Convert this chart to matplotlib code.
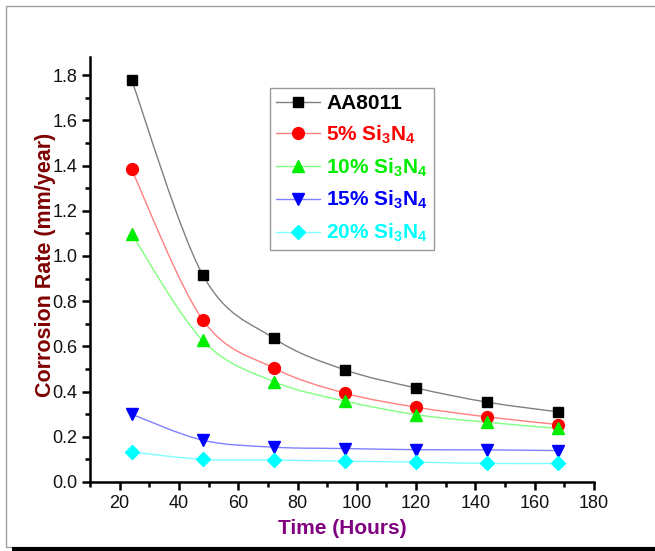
import matplotlib
matplotlib.use("Agg")
import matplotlib.pyplot as plt
from matplotlib.path import Path
from matplotlib.patches import PathPatch, Rectangle
from matplotlib.ticker import MultipleLocator

plt.rcParams['font.family'] = ['Liberation Sans', 'DejaVu Sans']
plt.rcParams['mathtext.fontset'] = 'custom'
plt.rcParams['mathtext.rm'] = 'Liberation Sans:bold'
plt.rcParams['mathtext.it'] = 'Liberation Sans:bold'
plt.rcParams['mathtext.bf'] = 'Liberation Sans:bold'

# ---- data ----
time_h = [24, 48, 72, 96, 120, 144, 168]
aa8011 = [1.78, 0.917, 0.636, 0.496, 0.416, 0.353, 0.310]
si5 = [1.383, 0.718, 0.504, 0.393, 0.331, 0.288, 0.254]
si10 = [1.098, 0.626, 0.444, 0.358, 0.298, 0.264, 0.237]
si15 = [0.300, 0.185, 0.154, 0.148, 0.143, 0.142, 0.139]
si20 = [0.133, 0.100, 0.097, 0.092, 0.088, 0.082, 0.082]
labels = ['AA8011', r'5% Si$_3$N$_4$', r'10% Si$_3$N$_4$', r'15% Si$_3$N$_4$', r'20% Si$_3$N$_4$']
x_ticks = [20, 40, 60, 80, 100, 120, 140, 160, 180]
y_ticks = [0.0, 0.2, 0.4, 0.6, 0.8, 1.0, 1.2, 1.4, 1.6, 1.8]

series = [aa8011, si5, si10, si15, si20]
mcolors = ['#000000', '#ff0000', '#00ee00', '#0000ff', '#00ffff']
lcolors = ['#808080', '#ff8080', '#80ff80', '#8080ff', '#80ffff']
markers = ['s', 'o', '^', 'v', 'D']
msizes = [7.5, 8.5, 9, 9, 7.5]


def smooth_path(xs, ys):
    n = len(xs)
    verts = [(xs[0], ys[0])]
    codes = [Path.MOVETO]
    for i in range(n - 1):
        i0 = max(i - 1, 0)
        i3 = min(i + 2, n - 1)
        c1 = (xs[i] + (xs[i + 1] - xs[i0]) / 6.0, ys[i] + (ys[i + 1] - ys[i0]) / 6.0)
        c2 = (xs[i + 1] - (xs[i3] - xs[i]) / 6.0, ys[i + 1] - (ys[i3] - ys[i]) / 6.0)
        verts += [c1, c2, (xs[i + 1], ys[i + 1])]
        codes += [Path.CURVE4] * 3
    return Path(verts, codes)


fig = plt.figure(figsize=(6.55, 5.51), dpi=100)
ax = fig.add_axes([90 / 655, 1 - 482 / 551, 504 / 655, 425 / 551])

handles = []
for ys, mc, lc, mk, ms, lab in zip(series, mcolors, lcolors, markers, msizes, labels):
    ax.add_patch(PathPatch(smooth_path(time_h, ys), facecolor='none', edgecolor=lc,
                           lw=1.0, transform=ax.transData, zorder=2))
    ax.plot(time_h, ys, linestyle='none', marker=mk, color=mc, markersize=ms, zorder=3)
    h, = ax.plot([], [], color=lc, lw=1.0, marker=mk, markerfacecolor=mc,
                 markeredgecolor=mc, markersize=ms, label=lab)
    handles.append(h)

ax.set_xlim(10, 180)
ax.set_ylim(0, 1.88)
ax.set_xticks(x_ticks)
ax.set_yticks(y_ticks)
ax.set_yticklabels([f'{v:.1f}' for v in y_ticks])
ax.xaxis.set_minor_locator(MultipleLocator(10))
ax.yaxis.set_minor_locator(MultipleLocator(0.1))
for s in ['top', 'right']:
    ax.spines[s].set_visible(False)
for s in ['left', 'bottom']:
    ax.spines[s].set_linewidth(1.8)
ax.tick_params(which='major', direction='out', length=6, width=1.8, labelsize=13,
               labelcolor='#111111', pad=3)
ax.tick_params(which='minor', direction='out', length=3.5, width=1.8)

ax.set_xlabel('Time (Hours)', fontsize=15, fontweight='bold', color='#800080', va='top')
ax.xaxis.set_label_coords(0.5, -0.088)
ax.set_ylabel('Corrosion Rate (mm/year)', fontsize=15.5, fontweight='bold', color='#7f0000',
              va='center')
ax.yaxis.set_label_coords(-0.088, 0.51)

leg = ax.legend(handles=handles, loc='upper left', bbox_to_anchor=(0.357, 0.927),
                borderaxespad=0, frameon=True, fancybox=False,
                prop={'weight': 'bold', 'size': 15}, handlelength=2.1, handletextpad=0.3,
                labelspacing=0.5, borderpad=0.3)
leg.get_frame().set_edgecolor('#808080')
leg.get_frame().set_linewidth(1.0)
for t, c in zip(leg.get_texts(), mcolors):
    t.set_color(c)

# outer frame
fig.patches.append(Rectangle((5.5 / 655, 4 / 551), 2.0, (551 - 6 - 4) / 551,
                             transform=fig.transFigure, fill=False, edgecolor='#a0a0a0',
                             lw=1.0, zorder=0))
fig.patches.append(Rectangle((12 / 655, 0), 1.0, 4 / 551, transform=fig.transFigure,
                             facecolor='black', edgecolor='none', zorder=1))

fig.savefig('out.png', dpi=100)
